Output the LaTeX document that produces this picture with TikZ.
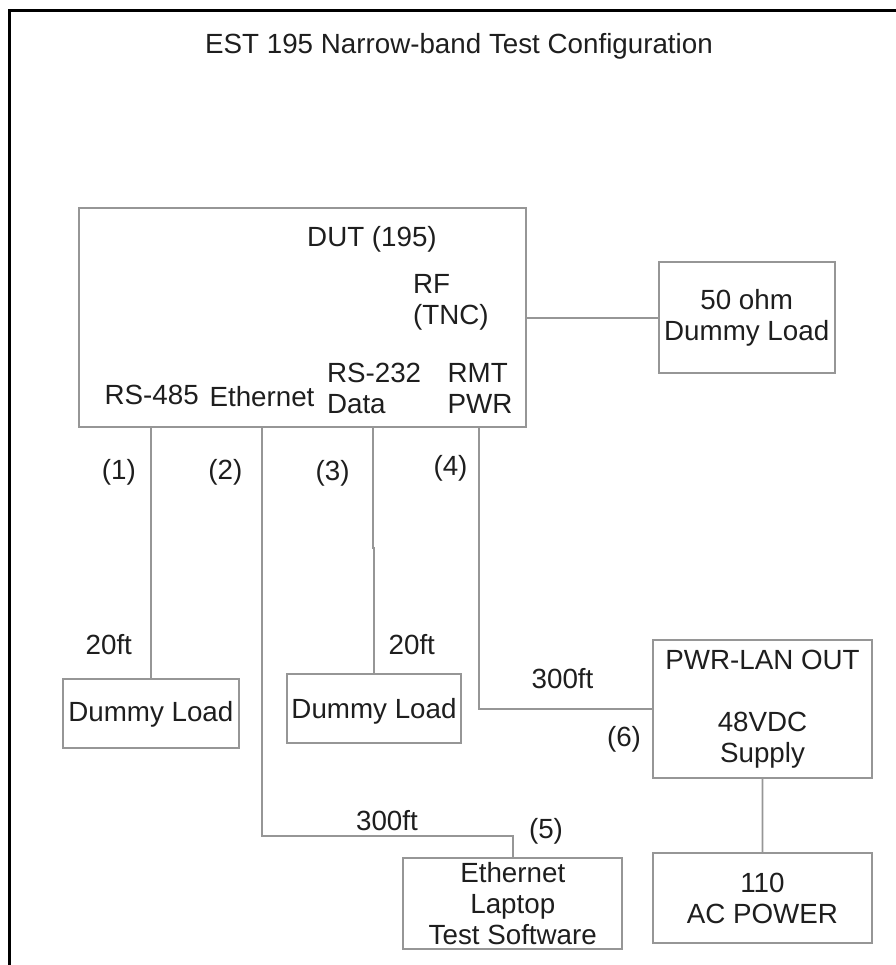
\documentclass[tikz,border=0pt]{standalone}
\usepackage{fontspec}
\setmainfont{Liberation Sans}
\usepackage{tikz}
\usetikzlibrary{positioning, calc}
\definecolor{txtdark}{RGB}{30,30,30}
\definecolor{linegray}{RGB}{150,150,150}
\tikzset{
  block/.style={rectangle, draw=linegray, line width=1pt, align=center,
    inner sep=0pt, text=txtdark},
  line/.style={line width=1pt, color=linegray},
  frame/.style={line width=1.7pt, color=black},
  lbl/.style={inner sep=0pt, anchor=base, text=txtdark},
  lblw/.style={inner sep=0pt, anchor=base west, align=left, text=txtdark}
}

\begin{document}
\begin{tikzpicture}[x=0.02cm, y=-0.02cm,
  every node/.style={font=\fontsize{15.8}{17.6}\selectfont}]
  \useasboundingbox (0,0) rectangle (896,965);

  % Frame and title
  \draw[frame] (9.7,965) -- (9.7,10.5) -- (896,10.5);
  \node[lbl] (title) at (459,53) {EST 195 Narrow-band Test Configuration};

  % DUT (two-line labels sit on their last baseline)
  \node[block, minimum width=8.928cm, minimum height=4.368cm] (dut) at (302.5,317.5) {};
  \node[lbl] (dutname) at (372,246.7) {DUT (195)};
  \node[lblw] (rf) at (412.7,324.3) {RF\\(TNC)};
  \node[lbl] (rs485) at (151.7,404) {RS-485};
  \node[lbl] (eth) at (262,406) {Ethernet};
  \node[lblw] (rs232) at (326.7,413.3) {RS-232\\Data};
  \node[lblw] (rmt) at (447.3,413.3) {RMT\\PWR};

  % Blocks
  \node[block, minimum width=3.52cm, minimum height=2.226cm] (load50) at (746.7,317.7) {50 ohm\\Dummy Load};
  \node[block, minimum width=3.526cm, minimum height=1.38cm, text height=12.3pt, text depth=3.3pt] (dload1) at (150.85,713.8) {Dummy Load};
  \node[block, minimum width=3.492cm, minimum height=1.374cm, text height=15.4pt, text depth=3.3pt] (dload2) at (374,708.3) {Dummy Load};
  \node[block, minimum width=4.368cm, minimum height=2.766cm] (pwrlan) at (762.5,709.2) {PWR-LAN OUT\\[17.6pt]48VDC\\Supply};
  \node[block, minimum width=4.374cm, minimum height=1.812cm] (acpower) at (762.4,898) {110\\AC POWER};
  \node[block, minimum width=4.38cm, minimum height=1.82cm] (laptop) at (512.8,903.8) {Ethernet\\Laptop\\Test Software};

  % Bends
  \coordinate (ethbend) at (261.7,836);
  \coordinate (databend) at (372.7,548);
  \coordinate (pwrbend) at (478.7,709.3);

  % Connections
  \draw[line] (load50.west -| dut.east) -- (load50.west);
  \draw[line] (dload1.north |- dut.south) -- (dload1.north);
  \draw[line] (ethbend |- dut.south) -- (ethbend) -| (laptop.north);
  \draw[line] (databend |- dut.south) -- (databend) -- (databend -| dload2.north) -- (dload2.north);
  \draw[line] (pwrbend |- dut.south) -- (pwrbend) -- (pwrbend -| pwrlan.west);
  \draw[line] (pwrlan.south) -- (acpower.north);

  % Cable labels
  \node[lbl] (c1) at (118.8,479.3) {(1)};
  \node[lbl] (c2) at (225.3,479.3) {(2)};
  \node[lbl] (c3) at (332.7,480) {(3)};
  \node[lbl] (c4) at (450.5,475) {(4)};
  \node[lbl] (c5) at (546,838.3) {(5)};
  \node[lbl] (c6) at (624,746.7) {(6)};
  \node[lbl] (len1) at (108.8,654.3) {20ft};
  \node[lbl] (len3) at (411.8,654.3) {20ft};
  \node[lbl] (len4) at (562.5,688.3) {300ft};
  \node[lbl] (len2) at (387,830.7) {300ft};
\end{tikzpicture}
\end{document}
